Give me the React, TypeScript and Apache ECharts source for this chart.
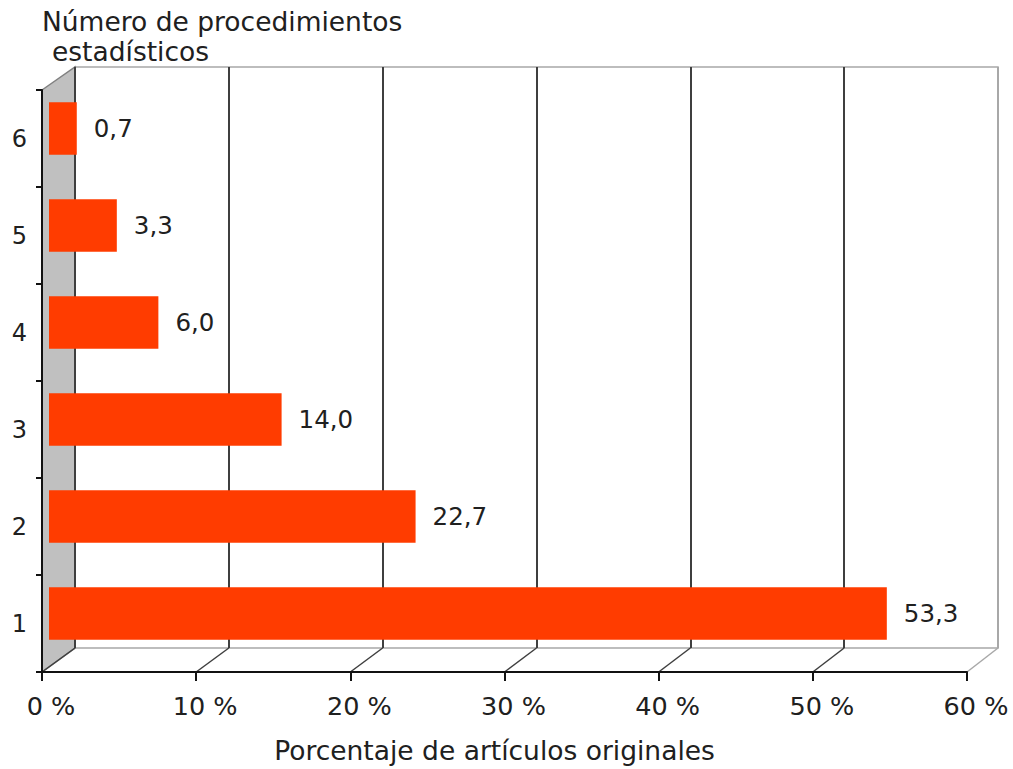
import { useEffect, useRef } from 'react';
import * as echarts from 'echarts';

// Data
const categories = ['1', '2', '3', '4', '5', '6'];
const percentages = [53.3, 22.7, 14.0, 6.0, 3.3, 0.7];
const axisMin = 0;
const axisMax = 60;
const axisStep = 10;
const yTitleLines = ['Número de procedimientos', 'estadísticos'];
const xTitle = 'Porcentaje de artículos originales';

// Styling
const FONT = 'DejaVu Sans';
const TEXT = '#202020';
const BAR = '#ff3c00';
const WALL = '#c0c0c0';
const GRID_DARK = '#3f3f3f';
const GRID_LIGHT = '#a8a8a8';

// Pseudo-3D frame: front plane (axes), back plane (gridlines), bar plane in between
const FRONT = { left: 42, top: 90, width: 925, height: 582 };
const BACK = { left: 75, top: 67, width: 923, height: 581 };
const BARS = { left: 66, top: 80, width: 924, height: 582 };
const BAR_FACE_SHIFT = 17; // front face of a bar sits ahead of its zero line
const LABEL_GAP = 17;

const fmt = (v: number) => v.toFixed(1).replace('.', ',');

export default function App() {
  const ref = useRef<HTMLDivElement>(null);

  useEffect(() => {
    if (!ref.current) return;
    const chart = echarts.init(ref.current, null, { renderer: 'svg' });

    const valueAxisBase = {
      type: 'value' as const,
      min: axisMin,
      max: axisMax,
      interval: axisStep,
    };

    chart.setOption({
      animation: false,
      backgroundColor: '#ffffff',
      textStyle: { fontFamily: FONT },
      title: [
        {
          text: yTitleLines[0],
          left: 42,
          top: 8,
          padding: 0,
          textStyle: { fontFamily: FONT, fontSize: 26.5, fontWeight: 'normal', color: TEXT },
        },
        {
          text: yTitleLines[1],
          left: 52,
          top: 38,
          padding: 0,
          textStyle: { fontFamily: FONT, fontSize: 26.5, fontWeight: 'normal', color: TEXT },
        },
      ],
      grid: [
        { ...BARS, containLabel: false },
        {
          ...BACK,
          show: true,
          backgroundColor: '#ffffff',
          borderColor: GRID_LIGHT,
          borderWidth: 1.5,
        },
        { ...FRONT },
      ],
      xAxis: [
        { ...valueAxisBase, gridIndex: 0, show: false },
        {
          ...valueAxisBase,
          gridIndex: 1,
          z: 3,
          axisLine: { show: false },
          axisTick: { show: false },
          axisLabel: { show: false },
          splitLine: {
            show: true,
            lineStyle: {
              color: [GRID_DARK, GRID_DARK, GRID_DARK, GRID_DARK, GRID_DARK, GRID_DARK, GRID_LIGHT],
              width: 2,
            },
          },
        },
        {
          ...valueAxisBase,
          gridIndex: 2,
          z: 4,
          axisLine: { show: true, lineStyle: { color: '#111', width: 2 } },
          axisTick: { show: true, length: 9, lineStyle: { color: '#111', width: 2 } },
          splitLine: { show: false },
          axisLabel: {
            formatter: '{value} %',
            fontFamily: FONT,
            fontSize: 25.5,
            color: TEXT,
            margin: 21,
            padding: [0, 0, 0, 18],
          },
          name: xTitle,
          nameLocation: 'middle',
          nameGap: 65,
          nameTextStyle: {
            fontFamily: FONT,
            fontSize: 26.5,
            color: TEXT,
            padding: [0, 20, 0, 0],
          },
        },
      ],
      yAxis: [
        { type: 'category', data: categories, gridIndex: 0, show: false },
        { type: 'category', data: categories, gridIndex: 1, show: false },
        {
          type: 'category',
          data: categories,
          gridIndex: 2,
          z: 4,
          axisLine: { show: true, lineStyle: { color: '#111', width: 2 } },
          axisTick: { show: true, length: 6, lineStyle: { color: '#111', width: 2 } },
          axisLabel: { fontFamily: FONT, fontSize: 24, color: TEXT, margin: 15 },
          splitLine: { show: false },
        },
      ],
      series: [
        {
          type: 'custom',
          xAxisIndex: 0,
          yAxisIndex: 0,
          z: 5,
          encode: { x: 0, y: 1 },
          data: percentages.map((v, i) => [v, i]),
          renderItem: (_params: any, api: any) => {
            const v = api.value(0);
            const idx = api.value(1);
            const start = api.coord([0, idx]);
            const end = api.coord([v, idx]);
            const h = api.size([0, 1])[1] * 0.54;
            return {
              type: 'group',
              children: [
                {
                  type: 'rect',
                  shape: {
                    x: start[0] - BAR_FACE_SHIFT,
                    y: end[1] - h / 2,
                    width: end[0] - start[0] + BAR_FACE_SHIFT,
                    height: h,
                  },
                  style: { fill: BAR },
                },
                {
                  type: 'text',
                  x: end[0] + LABEL_GAP,
                  y: end[1],
                  style: {
                    text: fmt(v),
                    fill: TEXT,
                    fontSize: 24.5,
                    fontFamily: FONT,
                    align: 'left',
                    verticalAlign: 'middle',
                  },
                },
              ],
            };
          },
        },
      ],
    });

    // Side wall and floor, joining the front axes to the back plane through the axis scales
    const frontBottom = FRONT.top + FRONT.height;
    const backBottom = BACK.top + BACK.height;
    const ticks: number[] = [];
    for (let t = axisMin; t <= axisMax; t += axisStep) ticks.push(t);
    const frontX = (v: number) => chart.convertToPixel({ xAxisIndex: 2 }, v) as number;
    const backX = (v: number) => chart.convertToPixel({ xAxisIndex: 1 }, v) as number;

    const floorLines = ticks.map((t, i) => ({
      type: 'line',
      z: 3,
      shape: { x1: frontX(t), y1: frontBottom, x2: backX(t), y2: backBottom },
      style: { stroke: i === ticks.length - 1 ? GRID_LIGHT : GRID_DARK, lineWidth: 1.5 },
    }));

    chart.setOption({
      graphic: [
        {
          type: 'polygon',
          z: 1,
          shape: {
            points: [
              [frontX(axisMin), FRONT.top],
              [backX(axisMin), BACK.top],
              [backX(axisMin), backBottom],
              [frontX(axisMin), frontBottom],
            ],
          },
          style: { fill: WALL, stroke: '#808080', lineWidth: 1.5 },
        },
        ...floorLines,
      ],
    });

    return () => chart.dispose();
  }, []);

  return (
    <div
      ref={ref}
      style={{ position: 'fixed', left: 0, top: 0, width: 1013, height: 769 }}
    />
  );
}
